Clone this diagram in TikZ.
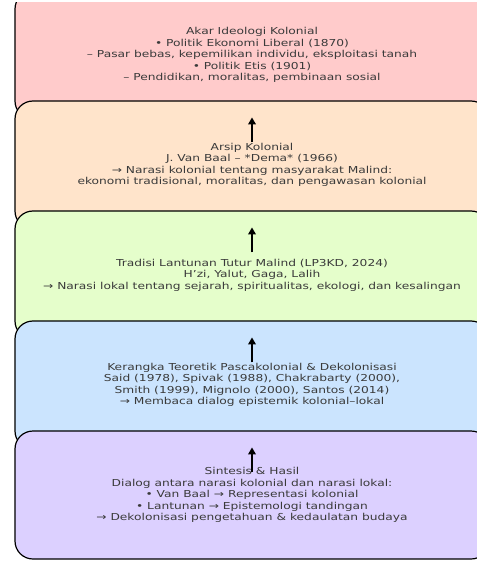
\documentclass[tikz,border=0pt]{standalone}
\usepackage{fontspec}
\setmainfont{DejaVu Sans}[FakeStretch=1.28]
\usetikzlibrary{arrows.meta}
\definecolor{akar}{HTML}{FFCBCB}
\definecolor{arsip}{HTML}{FFE4CB}
\definecolor{tradisi}{HTML}{E5FECB}
\definecolor{teori}{HTML}{CBE4FE}
\definecolor{sintesis}{HTML}{DCD0FF}
\definecolor{teks}{HTML}{3A3A3A}
\begin{document}
\begin{tikzpicture}[x=1bp,y=-1bp,
        layer/.style={draw=black,line width=1.2bp,rounded corners=18bp,minimum width=474bp,minimum height=128bp,
            text=teks,align=center,font=\fontsize{9.6}{11.6}\selectfont,inner sep=0pt},
        naik/.style={line width=2bp,-{Triangle[width=7.5bp,length=7bp]}}]
        \useasboundingbox (0,0) rectangle (477,561);
        \clip (0,3) rectangle (477,561);
        \node[layer,fill=akar] (akar) at (252,55) {Akar Ideologi Kolonial\\ • Politik Ekonomi Liberal (1870)\\ – Pasar bebas, kepemilikan individu, eksploitasi tanah\\ • Politik Etis (1901)\\ – Pendidikan, moralitas, pembinaan sosial};
        \node[layer,fill=arsip] (arsip) at (252,165) {Arsip Kolonial\\ J. Van Baal – *Dema* (1966)\\ → Narasi kolonial tentang masyarakat Malind:\\ ekonomi tradisional, moralitas, dan pengawasan kolonial};
        \node[layer,fill=tradisi] (tradisi) at (252,275) {Tradisi Lantunan Tutur Malind (LP3KD, 2024)\\ H’zi, Yalut, Gaga, Lalih\\ → Narasi lokal tentang sejarah, spiritualitas, ekologi, dan kesalingan};
        \node[layer,fill=teori] (teori) at (252,385) {Kerangka Teoretik Pascakolonial \& Dekolonisasi\\ Said (1978), Spivak (1988), Chakrabarty (2000),\\ Smith (1999), Mignolo (2000), Santos (2014)\\ → Membaca dialog epistemik kolonial–lokal};
        \node[layer,fill=sintesis] (sintesis) at (252,495) {Sintesis \& Hasil\\ Dialog antara narasi kolonial dan narasi lokal:\\ • Van Baal → Representasi kolonial\\ • Lantunan → Epistemologi tandingan\\ → Dekolonisasi pengetahuan \& kedaulatan budaya};
        \foreach \n in {arsip,tradisi,teori,sintesis}{
            \coordinate (\n-a) at ([yshift=-42bp]\n.north);
            \coordinate (\n-b) at ([yshift=-17bp]\n.north);
            \draw[naik] (\n-a) -- (\n-b);
        }
\end{tikzpicture}
\end{document}
